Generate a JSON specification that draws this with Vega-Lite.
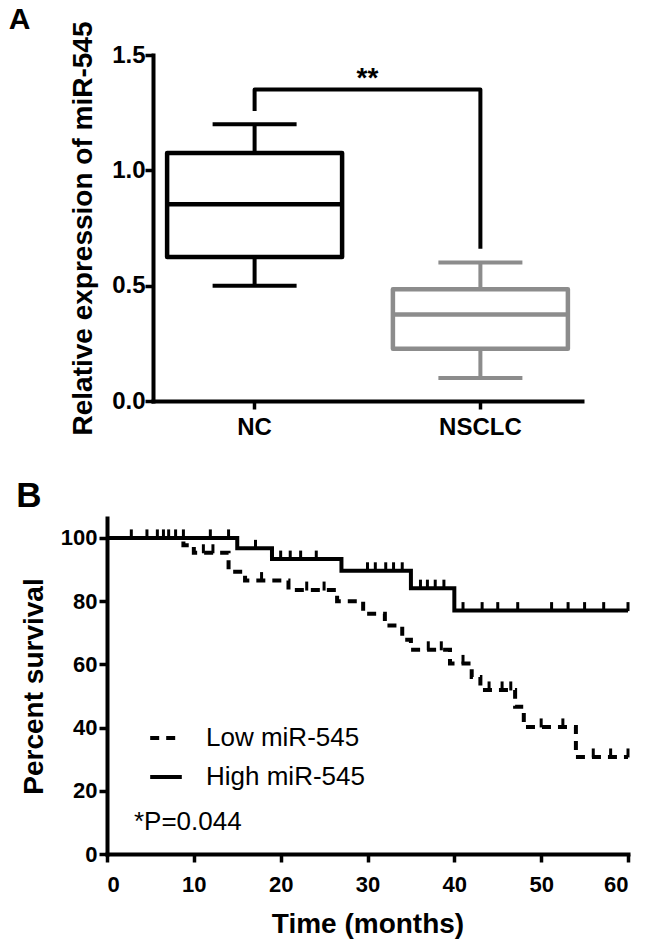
{
  "$schema": "https://vega.github.io/schema/vega-lite/v6.json",
  "background": "white",
  "padding": {"left": 8, "top": 5, "right": 5, "bottom": 5},
  "config": {
    "font": "Liberation Sans",
    "view": {"stroke": null},
    "tick": {"opacity": 1},
    "axis": {
      "domainColor": "black", "domainWidth": 4, "domainCap": "square",
      "tickColor": "black", "tickWidth": 3.5, "tickSize": 8,
      "labelFont": "Liberation Sans", "labelFontWeight": "bold", "labelColor": "black",
      "titleFont": "Liberation Sans", "titleFontWeight": "bold", "titleColor": "black",
      "grid": false
    }
  },
  "datasets": {
    "box": [
      {"group": "NC", "lo": 0.5, "q1": 0.624, "med": 0.853, "q3": 1.075, "hi": 1.2},
      {"group": "NSCLC", "lo": 0.1, "q1": 0.227, "med": 0.375, "q3": 0.484, "hi": 0.6}
    ],
    "bracket": [
      {"group": "NC", "v": 1.257, "k": 1},
      {"group": "NC", "v": 1.35, "k": 2},
      {"group": "NSCLC", "v": 1.35, "k": 3},
      {"group": "NSCLC", "v": 0.66, "k": 4}
    ],
    "km": [
      {"g": "Low miR-545", "t": 0, "s": 100},
      {"g": "Low miR-545", "t": 8.8, "s": 97.7},
      {"g": "Low miR-545", "t": 10, "s": 95.3},
      {"g": "Low miR-545", "t": 14, "s": 89.3},
      {"g": "Low miR-545", "t": 15.9, "s": 86.5},
      {"g": "Low miR-545", "t": 20.9, "s": 83.5},
      {"g": "Low miR-545", "t": 26.5, "s": 80},
      {"g": "Low miR-545", "t": 29.5, "s": 76},
      {"g": "Low miR-545", "t": 32, "s": 72.3},
      {"g": "Low miR-545", "t": 34, "s": 67.8},
      {"g": "Low miR-545", "t": 35, "s": 64.6},
      {"g": "Low miR-545", "t": 39.5, "s": 60.3},
      {"g": "Low miR-545", "t": 42, "s": 56},
      {"g": "Low miR-545", "t": 43, "s": 51.9},
      {"g": "Low miR-545", "t": 47, "s": 46.6},
      {"g": "Low miR-545", "t": 48, "s": 40.2},
      {"g": "Low miR-545", "t": 54, "s": 30.7},
      {"g": "Low miR-545", "t": 60, "s": 30.7},
      {"g": "High miR-545", "t": 0, "s": 100},
      {"g": "High miR-545", "t": 15, "s": 96.7},
      {"g": "High miR-545", "t": 19, "s": 93.3},
      {"g": "High miR-545", "t": 27, "s": 89.6},
      {"g": "High miR-545", "t": 35, "s": 84.1},
      {"g": "High miR-545", "t": 40, "s": 77},
      {"g": "High miR-545", "t": 60, "s": 77}
    ],
    "cens": [
      {"g": "High", "t": 2.8, "s": 100}, {"g": "High", "t": 4.6, "s": 100}, {"g": "High", "t": 5.8, "s": 100},
      {"g": "High", "t": 6.5, "s": 100}, {"g": "High", "t": 7.1, "s": 100}, {"g": "High", "t": 7.9, "s": 100},
      {"g": "High", "t": 8.8, "s": 100}, {"g": "High", "t": 11.9, "s": 100}, {"g": "High", "t": 14.0, "s": 100},
      {"g": "High", "t": 17.1, "s": 96.7},
      {"g": "High", "t": 20, "s": 93.3}, {"g": "High", "t": 21.1, "s": 93.3}, {"g": "High", "t": 22.3, "s": 93.3}, {"g": "High", "t": 24.1, "s": 93.3},
      {"g": "High", "t": 30, "s": 89.6}, {"g": "High", "t": 30.9, "s": 89.6}, {"g": "High", "t": 32.1, "s": 89.6}, {"g": "High", "t": 33, "s": 89.6}, {"g": "High", "t": 34, "s": 89.6},
      {"g": "High", "t": 36.1, "s": 84.1}, {"g": "High", "t": 36.9, "s": 84.1}, {"g": "High", "t": 37.8, "s": 84.1}, {"g": "High", "t": 38.8, "s": 84.1},
      {"g": "High", "t": 41, "s": 77}, {"g": "High", "t": 43.2, "s": 77}, {"g": "High", "t": 45, "s": 77}, {"g": "High", "t": 47.3, "s": 77},
      {"g": "High", "t": 51.2, "s": 77}, {"g": "High", "t": 53.1, "s": 77}, {"g": "High", "t": 55, "s": 77}, {"g": "High", "t": 57.2, "s": 77}, {"g": "High", "t": 60, "s": 77},
      {"g": "Low", "t": 11.1, "s": 95.3}, {"g": "Low", "t": 12.2, "s": 95.3},
      {"g": "Low", "t": 17.8, "s": 86.5},
      {"g": "Low", "t": 23, "s": 83.5}, {"g": "Low", "t": 25, "s": 83.5},
      {"g": "Low", "t": 37, "s": 64.6}, {"g": "Low", "t": 38.5, "s": 64.6},
      {"g": "Low", "t": 41, "s": 60.3},
      {"g": "Low", "t": 44, "s": 51.9}, {"g": "Low", "t": 45.5, "s": 51.9}, {"g": "Low", "t": 46.5, "s": 51.9},
      {"g": "Low", "t": 50, "s": 40.2}, {"g": "Low", "t": 52.5, "s": 40.2},
      {"g": "Low", "t": 56, "s": 30.7}, {"g": "Low", "t": 58, "s": 30.7}, {"g": "Low", "t": 60, "s": 30.7}
    ]
  },
  "bounds": "flush",
  "center": true,
  "spacing": 117,
  "resolve": {"legend": {"strokeDash": "independent"}},
  "vconcat": [
    {
      "width": 429,
      "height": 346,
      "title": {"text": "A", "anchor": "start", "frame": "bounds", "fontSize": 30, "fontWeight": "bold", "font": "Liberation Sans", "color": "black", "baseline": "alphabetic", "dx": -61, "offset": -38},
      "layer": [
        {
          "layer": [
            {
              "data": {"name": "box"},
              "mark": {"type": "rule", "strokeWidth": 4},
              "encoding": {
                "x": {"field": "group", "type": "nominal", "scale": {"paddingInner": 0.225, "paddingOuter": 0.0625}, "axis": {"title": null, "labelAngle": 0, "labelFontSize": 24, "labelPadding": 6}},
                "y": {"field": "lo", "type": "quantitative", "scale": {"domain": [0, 1.5], "nice": false}, "axis": {"values": [0, 0.5, 1.0, 1.5], "format": ".1f", "labelFontSize": 24, "labelPadding": 0, "title": "Relative expression of miR-545", "titleFontSize": 28, "titlePadding": 14}},
                "y2": {"field": "hi"},
                "color": {"field": "group", "type": "nominal", "scale": {"domain": ["NC", "NSCLC"], "range": ["#000000", "#8c8c8c"]}, "legend": null}
              }
            },
            {
              "data": {"name": "box"},
              "mark": {"type": "tick", "orient": "horizontal", "size": 84, "thickness": 4, "opacity": 1},
              "encoding": {
                "x": {"field": "group", "type": "nominal"},
                "y": {"field": "lo", "type": "quantitative"},
                "color": {"field": "group", "type": "nominal", "legend": null}
              }
            },
            {
              "data": {"name": "box"},
              "mark": {"type": "tick", "orient": "horizontal", "size": 84, "thickness": 4, "opacity": 1},
              "encoding": {
                "x": {"field": "group", "type": "nominal"},
                "y": {"field": "hi", "type": "quantitative"},
                "color": {"field": "group", "type": "nominal", "legend": null}
              }
            },
            {
              "data": {"name": "box"},
              "mark": {"type": "bar", "fill": "white", "strokeWidth": 4.5, "strokeJoin": "round", "opacity": 1},
              "encoding": {
                "x": {"field": "group", "type": "nominal"},
                "y": {"field": "q1", "type": "quantitative"},
                "y2": {"field": "q3"},
                "stroke": {"field": "group", "type": "nominal", "scale": {"domain": ["NC", "NSCLC"], "range": ["#000000", "#8c8c8c"]}, "legend": null}
              }
            },
            {
              "data": {"name": "box"},
              "mark": {"type": "tick", "orient": "horizontal", "size": 172, "thickness": 4.5, "opacity": 1},
              "encoding": {
                "x": {"field": "group", "type": "nominal"},
                "y": {"field": "med", "type": "quantitative"},
                "color": {"field": "group", "type": "nominal", "legend": null}
              }
            },
            {
              "data": {"name": "bracket"},
              "mark": {"type": "line", "color": "black", "strokeWidth": 4, "strokeJoin": "round"},
              "encoding": {
                "x": {"field": "group", "type": "nominal"},
                "y": {"field": "v", "type": "quantitative"},
                "order": {"field": "k", "type": "quantitative"}
              }
            }
          ]
        },
        {
          "data": {"values": [{}]},
          "mark": {"type": "text", "text": "**", "fontSize": 28, "fontWeight": "bold", "font": "Liberation Sans", "color": "black", "baseline": "alphabetic", "align": "center"},
          "encoding": {
            "x": {"datum": 0.5, "type": "quantitative", "scale": {"domain": [0, 1]}, "axis": null},
            "y": {"datum": 1.36, "type": "quantitative"}
          }
        }
      ],
      "resolve": {"scale": {"x": "independent"}}
    },
    {
      "width": 521,
      "height": 336,
      "title": {"text": "B", "anchor": "start", "frame": "bounds", "fontSize": 35, "fontWeight": "bold", "font": "Liberation Sans", "color": "black", "baseline": "alphabetic", "dx": -4, "offset": -24},
      "layer": [
        {
          "data": {"name": "km"},
          "mark": {"type": "line", "interpolate": "step-after", "strokeWidth": 4, "color": "black"},
          "encoding": {
            "x": {"field": "t", "type": "quantitative", "scale": {"domain": [0, 60], "nice": false}, "axis": {"values": [0, 10, 20, 30, 40, 50, 60], "labelFontSize": 22, "labelPadding": 12, "title": "Time (months)", "titleFontSize": 28, "titlePadding": 15}},
            "y": {"field": "s", "type": "quantitative", "scale": {"domain": [0, 106.3], "nice": false}, "axis": {"values": [0, 20, 40, 60, 80, 100], "labelFontSize": 22, "labelPadding": 2, "title": "Percent survival", "titleFontSize": 28, "titlePadding": 12}},
            "strokeDash": {"field": "g", "type": "nominal", "scale": {"domain": ["Low miR-545", "High miR-545"], "range": [[9, 7], [1, 0]]},
              "legend": {"orient": "none", "legendX": 41, "legendY": 202, "title": null, "labelFontSize": 26, "labelFont": "Liberation Sans", "labelColor": "black", "labelFontWeight": "normal", "symbolType": "stroke", "symbolStrokeWidth": 4, "symbolStrokeColor": "black", "symbolSize": 1000, "labelOffset": 22, "rowPadding": 8}}
          }
        },
        {
          "data": {"name": "cens"},
          "mark": {"type": "tick", "orient": "vertical", "size": 9, "thickness": 3, "yOffset": -4, "color": "black", "opacity": 1},
          "encoding": {
            "x": {"field": "t", "type": "quantitative"},
            "y": {"field": "s", "type": "quantitative"}
          }
        },
        {
          "data": {"values": [{}]},
          "mark": {"type": "text", "text": "*P=0.044", "fontSize": 26, "font": "Liberation Sans", "color": "black", "baseline": "alphabetic", "align": "left"},
          "encoding": {
            "x": {"datum": 3.1, "type": "quantitative"},
            "y": {"datum": 7.7, "type": "quantitative"}
          }
        }
      ]
    }
  ]
}
